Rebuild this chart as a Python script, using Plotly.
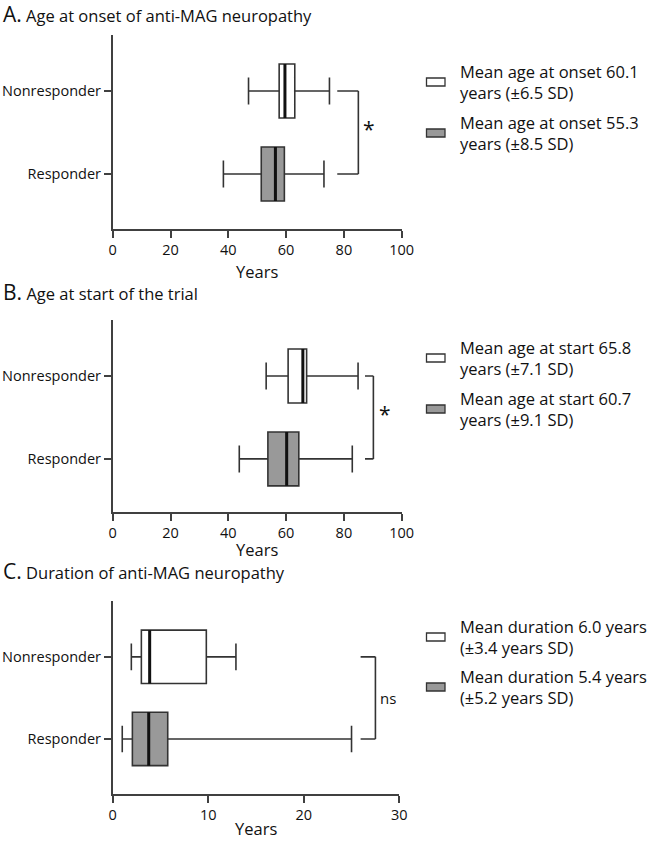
import plotly.graph_objects as go

W, H = 650, 845

# ---------------- data ----------------
categories = ["Responder", "Nonresponder"]
group_fill = ["#999999", "#ffffff"]

onset_min = [38.3, 47.0]
onset_q1 = [51.4, 57.6]
onset_med = [56.3, 59.6]
onset_q3 = [59.4, 63.0]
onset_max = [73.1, 75.0]

start_min = [43.8, 53.1]
start_q1 = [53.7, 60.7]
start_med = [60.2, 65.8]
start_q3 = [64.4, 67.1]
start_max = [82.9, 84.9]

dur_min = [1.0, 1.95]
dur_q1 = [2.06, 3.0]
dur_med = [3.77, 3.87]
dur_q3 = [5.76, 9.8]
dur_max = [25.0, 12.9]

panel_titles = ["Age at onset of anti-MAG neuropathy",
                "Age at start of the trial",
                "Duration of anti-MAG neuropathy"]
panel_letters = ["A.", "B.", "C."]
legend_texts = [
    ["Mean age at onset 60.1<br>years (±6.5 SD)", "Mean age at onset 55.3<br>years (±8.5 SD)"],
    ["Mean age at start 65.8<br>years (±7.1 SD)", "Mean age at start 60.7<br>years (±9.1 SD)"],
    ["Mean duration 6.0 years<br>(±3.4 years SD)", "Mean duration 5.4 years<br>(±5.2 years SD)"],
]
sig_labels = ["*", "*", "ns"]
x_ranges = [[0, 100], [0, 100], [0, 30]]
x_dticks = [20, 20, 10]

# ---------------- layout helpers (page pixel -> paper fraction) ----------------
def px(p):
    return p / W

def py(p):
    return 1 - p / H

FONT = "Open Sans"
AX = "#404040"
LINE = "#333333"
TXT = "#111111"
BOXW = 0.65

panels = [
    dict(stats=(onset_min, onset_q1, onset_med, onset_q3, onset_max),
         xdom=[112.7, 401.7], ytop=35, ybot=229, yrange=[-0.663, 1.675],
         bracket=(77.7, 85.0), sigx=86.0, sigsize=21, title_y=14, years_y=271,
         leg_y=[82, 133]),
    dict(stats=(start_min, start_q1, start_med, start_q3, start_max),
         xdom=[112.7, 401.7], ytop=320, ybot=512, yrange=[-0.64, 1.675],
         bracket=(87.3, 90.2), sigx=91.4, sigsize=21, title_y=292, years_y=549,
         leg_y=[358, 409]),
    dict(stats=(dur_min, dur_q1, dur_med, dur_q3, dur_max),
         xdom=[112.7, 399.3], ytop=601, ybot=794, yrange=[-0.67, 1.68],
         bracket=(25.95, 27.5), sigx=27.75, sigsize=15, title_y=571, years_y=828,
         leg_y=[637, 687]),
]

fig = go.Figure()
shapes = []
annotations = []
layout_axes = {}

for i, p in enumerate(panels):
    n = "" if i == 0 else str(i + 1)
    xa, ya = "x" + n, "y" + n
    mn, q1, md, q3, mx = p["stats"]
    for j, cat in enumerate(categories):
        fig.add_trace(go.Box(
            y=[cat], q1=[q1[j]], median=[md[j]], q3=[q3[j]],
            lowerfence=[mn[j]], upperfence=[mx[j]],
            orientation="h", width=BOXW, whiskerwidth=0.5,
            fillcolor=group_fill[j], line=dict(color=LINE, width=1.6),
            boxpoints=False, hoverinfo="skip", showlegend=False,
            xaxis=xa, yaxis=ya))
        # thicker median line
        shapes.append(dict(type="line", xref=xa, yref=ya,
                           x0=md[j], x1=md[j], y0=j - BOXW / 2, y1=j + BOXW / 2,
                           line=dict(color="#111111", width=3)))
    # significance bracket
    bx0, bx1 = p["bracket"]
    for yy in (0, 1):
        shapes.append(dict(type="line", xref=xa, yref=ya, x0=bx0, x1=bx1,
                           y0=yy, y1=yy, line=dict(color=LINE, width=1.6)))
    shapes.append(dict(type="line", xref=xa, yref=ya, x0=bx1, x1=bx1,
                       y0=0, y1=1, line=dict(color=LINE, width=1.6)))
    annotations.append(dict(xref=xa, yref=ya, x=p["sigx"],
                            y=0.5 + (0.04 if sig_labels[i] == "*" else 0),
                            text=sig_labels[i], showarrow=False, xanchor="left",
                            font=dict(family=FONT, size=p["sigsize"], color=TXT)))

    layout_axes["xaxis" + n] = dict(
        domain=[px(p["xdom"][0]), px(p["xdom"][1])], anchor=ya,
        range=x_ranges[i], dtick=x_dticks[i], tick0=0, automargin=False,
        showline=True, linecolor=AX, linewidth=1.6,
        ticks="outside", ticklen=7, tickwidth=1.6, tickcolor=AX,
        showgrid=False, zeroline=False, fixedrange=True,
        tickfont=dict(family=FONT, size=14.5, color=TXT))
    layout_axes["yaxis" + n] = dict(
        domain=[py(p["ybot"]), py(p["ytop"])], anchor=xa, automargin=False,
        type="category", categoryorder="array", categoryarray=categories,
        range=p["yrange"],
        showline=True, linecolor=AX, linewidth=1.6,
        ticks="outside", ticklen=7, tickwidth=1.6, tickcolor=AX,
        showgrid=False, zeroline=False, fixedrange=True,
        tickfont=dict(family=FONT, size=14.5, color=TXT))

    # panel title
    annotations.append(dict(xref="paper", yref="paper", x=px(1), y=py(p["title_y"]),
                            xanchor="left", yanchor="middle", showarrow=False,
                            text="<span style='font-size:21px'>" + panel_letters[i] +
                                 "</span> " + panel_titles[i],
                            font=dict(family=FONT, size=16.5, color=TXT)))
    # x title
    xc = (p["xdom"][0] + p["xdom"][1]) / 2
    annotations.append(dict(xref="paper", yref="paper", x=px(xc), y=py(p["years_y"]),
                            xanchor="center", yanchor="middle", showarrow=False,
                            text="Years", font=dict(family=FONT, size=16.5, color=TXT)))
    # legend (Nonresponder first, Responder second)
    for k, j in enumerate([1, 0]):
        cy = p["leg_y"][k]
        shapes.append(dict(type="rect", xref="paper", yref="paper",
                           x0=px(426.5), x1=px(445), y0=py(cy + 4), y1=py(cy - 4),
                           fillcolor=group_fill[j], line=dict(color=LINE, width=1.3)))
        annotations.append(dict(xref="paper", yref="paper", x=px(458), y=py(cy),
                                xanchor="left", yanchor="middle", align="left",
                                showarrow=False, text=legend_texts[i][k],
                                font=dict(family=FONT, size=16.5, color=TXT)))

fig.update_layout(
    width=W, height=H, margin=dict(l=0, r=0, t=0, b=0, autoexpand=False),
    autosize=False,
    paper_bgcolor="white", plot_bgcolor="white",
    boxmode="overlay", showlegend=False,
    shapes=shapes, annotations=annotations,
    font=dict(family=FONT, color=TXT),
    **layout_axes)

fig.write_html("out.html",
               config={"displayModeBar": False, "responsive": False},
               post_script="document.body.style.margin='0px';"
                           "document.body.style.overflow='hidden';")
